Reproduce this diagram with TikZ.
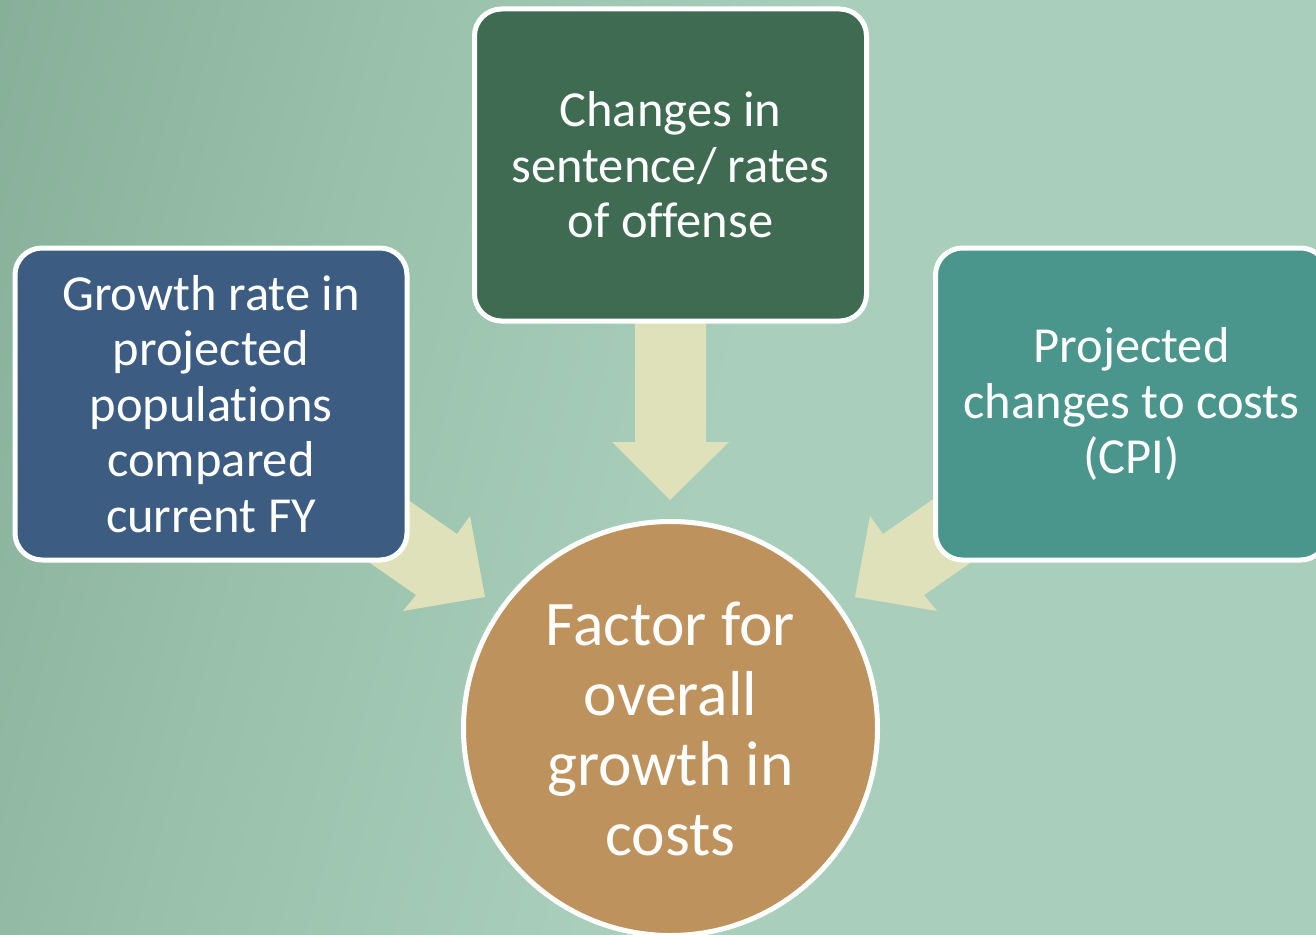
\documentclass[tikz,border=0pt]{standalone}
\usepackage{fontspec}
\setmainfont[Ligatures=CommonOff]{Carlito}
\definecolor{bgdark}{HTML}{7CA58E}
\definecolor{bgmid}{HTML}{98C0AA}
\definecolor{bglight}{HTML}{A9CFBC}
\definecolor{boxblue}{HTML}{3C5C82}
\definecolor{boxgreen}{HTML}{3E6B52}
\definecolor{boxteal}{HTML}{4A958C}
\definecolor{circbrown}{HTML}{BE925D}
\definecolor{arrowfill}{HTML}{DFE1BA}
\pgfdeclarehorizontalshading{bgsh}{100bp}{color(0bp)=(bgdark); color(10bp)=(bgdark); color(35bp)=(bgmid); color(52bp)=(bglight); color(100bp)=(bglight)}
\tikzset{
  box/.style={draw=white, line width=5pt, rounded corners=27pt, minimum width=392pt, minimum height=312pt,
    text=white, align=center, inner sep=0pt, font=\fontsize{50.5}{55.5}\selectfont},
  bigcirc/.style={circle, draw=white, line width=5pt, fill=circbrown, minimum size=414pt,
    text=white, align=center, inner sep=0pt, font=\fontsize{63.5}{70}\selectfont},
  blockarrow/.style={fill=arrowfill, draw=none}
}
\begin{document}
\begin{tikzpicture}[x=1pt,y=-1pt]
\useasboundingbox (0,0) rectangle (1316,934);
\clip (0,0) rectangle (1316,934);
\shade[shading=bgsh, shading angle=-15] (-10,-10) rectangle (1326,944);

% block arrows (behind the nodes)
\fill[blockarrow] (635,318) -- (706,318) -- (706,442) -- (729,442) -- (670,500) -- (612,442) -- (635,442) -- cycle;
\fill[blockarrow] (375,477) -- (457,534) -- (470,516) -- (485,597) -- (403,611) -- (416,595) -- (334,538) -- cycle;
\fill[blockarrow] (965,477) -- (883,534) -- (870,516) -- (855,597) -- (937,611) -- (924,595) -- (1006,538) -- cycle;

\node[box, fill=boxblue] (growth) at (211,404) {Growth rate in\\projected\\populations\\compared\\current FY};
\node[box, fill=boxgreen] (changes) at (670.5,165) {Changes in\\sentence/ rates\\of offense};
\node[box, fill=boxteal] (cpi) at (1131.5,404) {Projected\\changes to costs\\(CPI)};
\node[bigcirc] (factor) at (670.5,728.5) {Factor for\\overall\\growth in\\costs};
\end{tikzpicture}
\end{document}
